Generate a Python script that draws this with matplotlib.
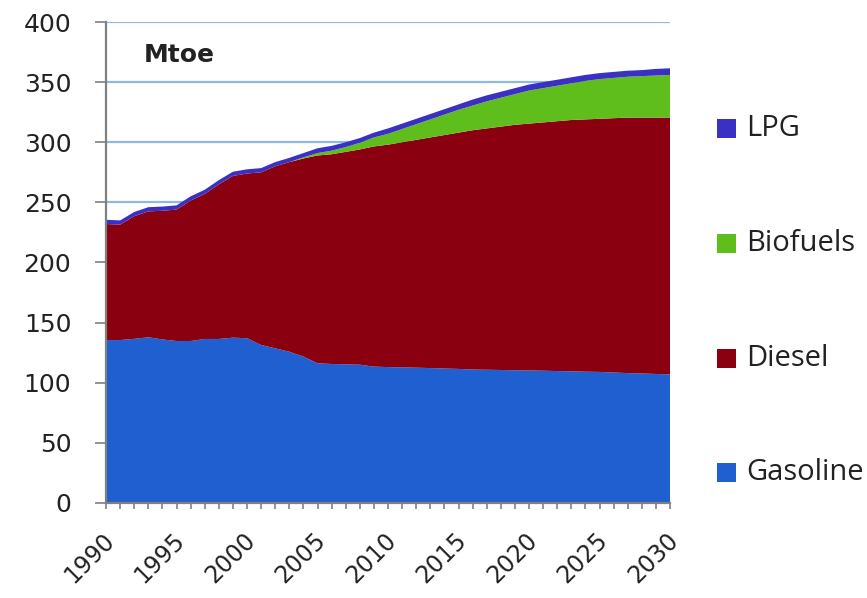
import numpy as np
import matplotlib
matplotlib.use("Agg")
import matplotlib.pyplot as plt
from matplotlib.patches import Rectangle
from matplotlib.transforms import ScaledTranslation

# Road transport fuel demand, Mtoe
years = list(range(1990, 2031))

gasoline = [135.5, 135.5, 136.5, 137.8, 136.0, 134.7, 134.7, 136.4, 136.4, 137.5,
            137.0, 131.4, 128.6, 125.8, 121.7, 116.2, 115.6, 115.3, 115.0, 113.4,
            113.0, 112.8, 112.5, 112.2, 111.8, 111.5, 111.0, 110.8, 110.6, 110.4,
            110.2, 110.0, 109.7, 109.5, 109.2, 109.0, 108.5, 108.0, 107.7, 107.3,
            107.0]

diesel = [96.5, 96.0, 102.0, 104.7, 107.0, 109.3, 116.8, 120.6, 128.6, 134.5,
          137.0, 143.6, 151.4, 157.7, 164.8, 172.8, 174.4, 176.7, 179.0, 183.1,
          185.0, 187.2, 189.5, 191.8, 194.2, 196.5, 199.0, 200.7, 202.4, 204.1,
          205.3, 206.5, 207.8, 209.0, 209.8, 210.5, 211.5, 212.5, 212.8, 213.2,
          213.5]

biofuels = [0.0, 0.0, 0.0, 0.0, 0.0, 0.0, 0.0, 0.0, 0.0, 0.0,
            0.0, 0.0, 0.0, 0.0, 1.0, 2.0, 3.0, 4.0, 5.5, 7.5,
            9.0, 11.0, 13.0, 15.0, 17.0, 19.0, 20.5, 22.5, 24.0, 25.5,
            27.5, 28.5, 29.5, 30.5, 32.0, 33.0, 33.5, 34.0, 34.5, 35.0,
            35.5]

lpg = [3.5, 3.5, 3.5, 3.5, 3.5, 3.5, 3.5, 3.5, 3.5, 3.5,
       3.5, 3.5, 3.5, 3.5, 3.5, 4.0, 4.0, 4.0, 4.0, 4.0,
       4.5, 4.5, 4.5, 4.5, 4.5, 4.5, 5.0, 5.0, 5.0, 5.0,
       5.0, 5.0, 5.0, 5.0, 5.0, 5.0, 5.0, 5.0, 5.0, 5.5,
       5.5]

series_names = ["Gasoline", "Diesel", "Biofuels", "LPG"]
series_colors = ["#1f5fcf", "#8a0010", "#5fbd1c", "#3a30c4"]
year_labels = [str(y) for y in range(1990, 2031, 5)]

fig = plt.figure(figsize=(8.67, 5.98), dpi=100)
ax = fig.add_axes([0.1223, 0.1589, 0.6505, 0.8043])

ax.stackplot(years, gasoline, diesel, biofuels, lpg,
             colors=series_colors, linewidth=0, zorder=2)

ax.set_xlim(1990, 2030)
ax.set_ylim(0, 400)

# horizontal gridlines behind the areas
ax.set_yticks(np.arange(0, 401, 50))
ax.yaxis.grid(True, color="#8fb8e3", linewidth=1.6, zorder=0)
ax.set_axisbelow(True)

ax.set_xticks(years, minor=True)
ax.set_xticks(list(range(1990, 2031, 5)))
ax.set_xticklabels(year_labels, rotation=45, ha="right", va="top",
                   rotation_mode="anchor", fontsize=17, color="#222222")
ax.tick_params(axis="x", which="both", direction="out", length=4,
               width=1.2, color="#808080", pad=4)
ax.tick_params(axis="y", direction="out", length=8, width=1.2,
               color="#808080", labelsize=18, labelcolor="#222222", pad=17)

# push the slanted year labels down and slightly left
shift = ScaledTranslation(-4 / 100, -14 / 100, fig.dpi_scale_trans)
for lab in ax.get_xticklabels():
    lab.set_transform(lab.get_transform() + shift)

for side in ("top", "right"):
    ax.spines[side].set_visible(False)
for side in ("left", "bottom"):
    ax.spines[side].set_color("#808080")
    ax.spines[side].set_linewidth(1.6)

ax.text(0.066, 0.931, "Mtoe", transform=ax.transAxes, fontsize=18,
        fontweight="bold", color="#222222", va="center", ha="left")

# legend built by hand: squares with labels, top series first
legend_rows = [("LPG", 128), ("Biofuels", 243), ("Diesel", 358), ("Gasoline", 472)]
color_of = dict(zip(series_names, series_colors))
W, H = 867.0, 598.0
for name, ypix in legend_rows:
    sq = 19
    fig.add_artist(Rectangle((717 / W, 1 - (ypix + sq / 2) / H), sq / W, sq / H,
                             transform=fig.transFigure,
                             facecolor=color_of[name], edgecolor="none"))
    fig.text(746 / W, 1 - ypix / H, name, fontsize=21, family="Open Sans",
             color="#222222", va="center", ha="left")

fig.savefig("out.png", dpi=100, facecolor="white")
